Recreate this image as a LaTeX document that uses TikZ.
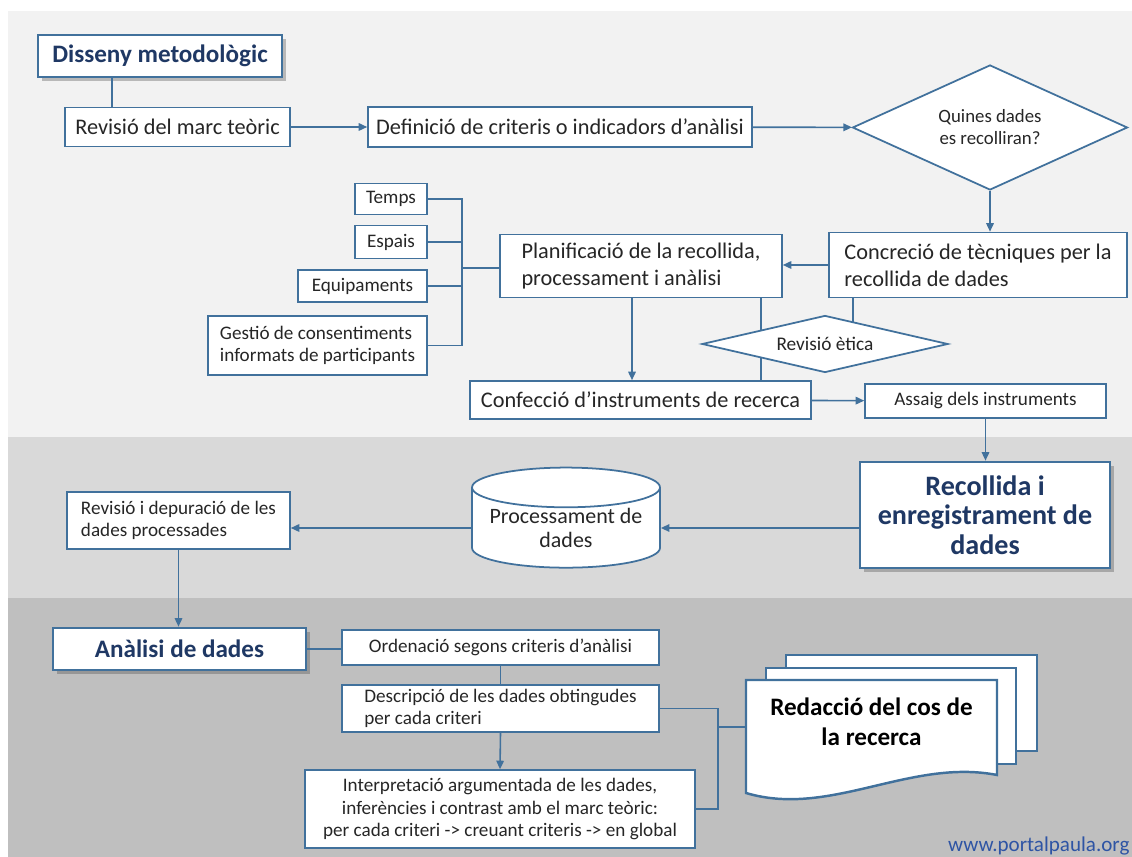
\documentclass[tikz,border=0pt]{standalone}
\usepackage{fontspec}
\setmainfont{Carlito}
\usetikzlibrary{arrows.meta,positioning,shapes.geometric,shadows,calc}
\definecolor{edge}{HTML}{41719C}
\definecolor{navy}{HTML}{1F3864}
\definecolor{inktext}{HTML}{262626}
\definecolor{bandA}{HTML}{F2F2F2}
\definecolor{bandB}{HTML}{D9D9D9}
\definecolor{bandC}{HTML}{BFBFBF}
\definecolor{weblink}{HTML}{2E54A4}
\tikzset{
  wh/.style 2 args={minimum width=#1*0.02cm,minimum height=#2*0.02cm},
  box/.style={draw=edge,line width=0.9pt,fill=white,inner sep=0pt,text=inktext,
    align=left,font=\fontsize{12.7}{15.3}\selectfont},
  smallbox/.style={box,font=\fontsize{10.9}{12.8}\selectfont},
  titlebox/.style={box,line width=1.5pt,align=center,text=navy,
    font=\fontsize{14.3}{17}\selectfont\bfseries,
    drop shadow={shadow xshift=2pt,shadow yshift=-2pt,opacity=0.35,fill=black!70}},
  choice/.style={diamond,draw=edge,line width=1pt,fill=white,inner sep=0pt,
    aspect=2.5,text=inktext,align=center,font=\fontsize{10.7}{12.5}\selectfont},
  store/.style={cylinder,shape border rotate=90,aspect=0.26,draw=edge,line width=1pt,
    fill=white,inner sep=0pt,align=center,text=inktext,font=\fontsize{12.5}{13.8}\selectfont},
  docline/.style={draw=edge,line width=1.4pt,fill=white},
  arr/.style={-{Triangle[length=1.7mm,width=1.5mm]},line width=0.9pt,draw=edge},
  link/.style={line width=0.9pt,draw=edge},
}
\begin{document}
\begin{tikzpicture}[x=0.02cm,y=-0.02cm]
  % bands
  \fill[white] (0,0) rectangle (1132,857);
  \fill[bandA] (8,11) rectangle (1132,437);
  \fill[bandB] (8,437) rectangle (1132,598);
  \fill[bandC] (8,598) rectangle (1132,857);
  \useasboundingbox (0,0) rectangle (1132,857);
  % design stage
  \node[titlebox,wh={244}{42}] (design) at (160,56) {Disseny metodològic};
  \node[box,wh={225}{39}] (theory) at (177.5,127) {Revisió del marc teòric};
  \node[box,wh={384}{40}] (criteria) at (560,127) {Definició de criteris o indicadors d’anàlisi};
  \node[choice,wh={275}{125}] (which) at (990,127.5) {Quines dades\\es recolliran?};
  \node[box,wh={298}{65}] (tech) at (978,265) {Concreció de tècniques per la\\recollida de dades};
  \node[box,wh={282}{63}] (plan) at (641,266) {Planificació de la recollida,\\processament i anàlisi};
  \node[smallbox,wh={72}{31}] (time) at (391,199) {Temps};
  \node[smallbox,wh={72}{33}] (space) at (391,242) {Espais};
  \node[smallbox,wh={129}{32}] (equip) at (362.5,286) {Equipaments};
  \node[smallbox,wh={219}{59}] (consent) at (317.5,345.5) {Gestió de consentiments\\informats de participants};
  \node[box,wh={341}{38}] (instr) at (640.5,400) {Confecció d’instruments de recerca};
  \node[smallbox,wh={241}{34}] (trial) at (985.5,401) {Assaig dels instruments};
  \coordinate (dlink) at (112,77);
  \coordinate (hub) at (462,268);
  \coordinate (tap) at (853,345);
  \draw[link] (dlink) -- (dlink |- theory.north);
  \draw[arr] (theory) -- (criteria);
  \draw[arr] (criteria) -- (which);
  \draw[arr] (which.south) -- (which.south |- tech.north);
  \draw[arr] (tech.west) -- (tech.west -| plan.east);
  \draw[link] (time.east) -| (hub);
  \draw[link] (consent.east) -| (hub);
  \draw[link] (space.east) -- (space.east -| hub);
  \draw[link] (equip.east) -- (equip.east -| hub);
  \draw[link,line width=1.6pt] (hub) -- (hub -| plan.west);
  \draw[arr] ([xshift=-0.18cm]plan.south) -- ([xshift=-0.18cm]plan.south |- instr.north);
  \draw[link] ([xshift=2.4cm]plan.south) -- ([xshift=2.4cm]plan.south |- instr.north);
  \draw[link] (tap |- tech.south) -- (tap);
  \node[choice,aspect=4,font=\fontsize{11}{13}\selectfont,wh={246}{57}] (ethics) at (825,344) {Revisió ètica};
  \draw[arr] (instr) -- (trial);
  % collection stage
  \node[titlebox,wh={250}{106},font=\fontsize{16}{16.8}\selectfont\bfseries] (collect) at (985,515) {Recollida i\\enregistrament de\\dades};
  \node[store,minimum width=188*0.02cm,minimum height=90*0.02cm] (proc) at (566,528) {Processament de\\dades};
  \node[smallbox,wh={223}{57}] (clean) at (178.5,520.5) {Revisió i depuració de les\\dades processades};
  \draw[arr] (trial.south) -- (trial.south |- collect.north);
  \draw[arr] (proc.east -| collect.west) -- (proc.east);
  \draw[arr] (proc.west) -- (proc.west -| clean.east);
  % analysis stage
  \node[titlebox,wh={253}{42}] (analysis) at (179.5,649) {Anàlisi de dades};
  \node[smallbox,wh={317}{35}] (order) at (500.5,647.5) {Ordenació segons criteris d’anàlisi};
  \node[smallbox,wh={317}{47}] (describe) at (500.5,708.5) {Descripció de les dades obtingudes\\per cada criteri};
  \node[smallbox,wh={390}{78},align=center] (interpret) at (500,809) {Interpretació argumentada de les dades,\\inferències i contrast amb el marc teòric:\\per cada criteri -> creuant criteris -> en global};
  \draw[arr] (clean.south) -- (clean.south |- analysis.north);
  \draw[link] (analysis.east) -- (analysis.east -| order.west);
  \draw[link] (order.south) -- (describe.north);
  \draw[arr] (describe.south) -- (interpret.north);
  % report
  \filldraw[docline] (786,655) rectangle (1037,751);
  \filldraw[docline] (766,668) rectangle (1016,764);
  \filldraw[docline] (746,680) -- (997,680) -- (997,775) .. controls (910,758) and (830,818) .. (746,793) -- cycle;
  \node[wh={251}{100},inner sep=0pt,align=center,font=\fontsize{14.3}{17}\selectfont\bfseries] (report) at (871.5,722) {Redacció del cos de\\la recerca};
  \coordinate (merge) at (718,727);
  \draw[link] (describe.east) -| (merge);
  \draw[link] (interpret.east) -| (merge);
  \draw[link] (merge) -- (merge -| report.west);
  \node[anchor=base west,text=weblink,font=\fontsize{12}{14}\selectfont] (web) at (942,851) {www.portalpaula.org};
\end{tikzpicture}
\end{document}
